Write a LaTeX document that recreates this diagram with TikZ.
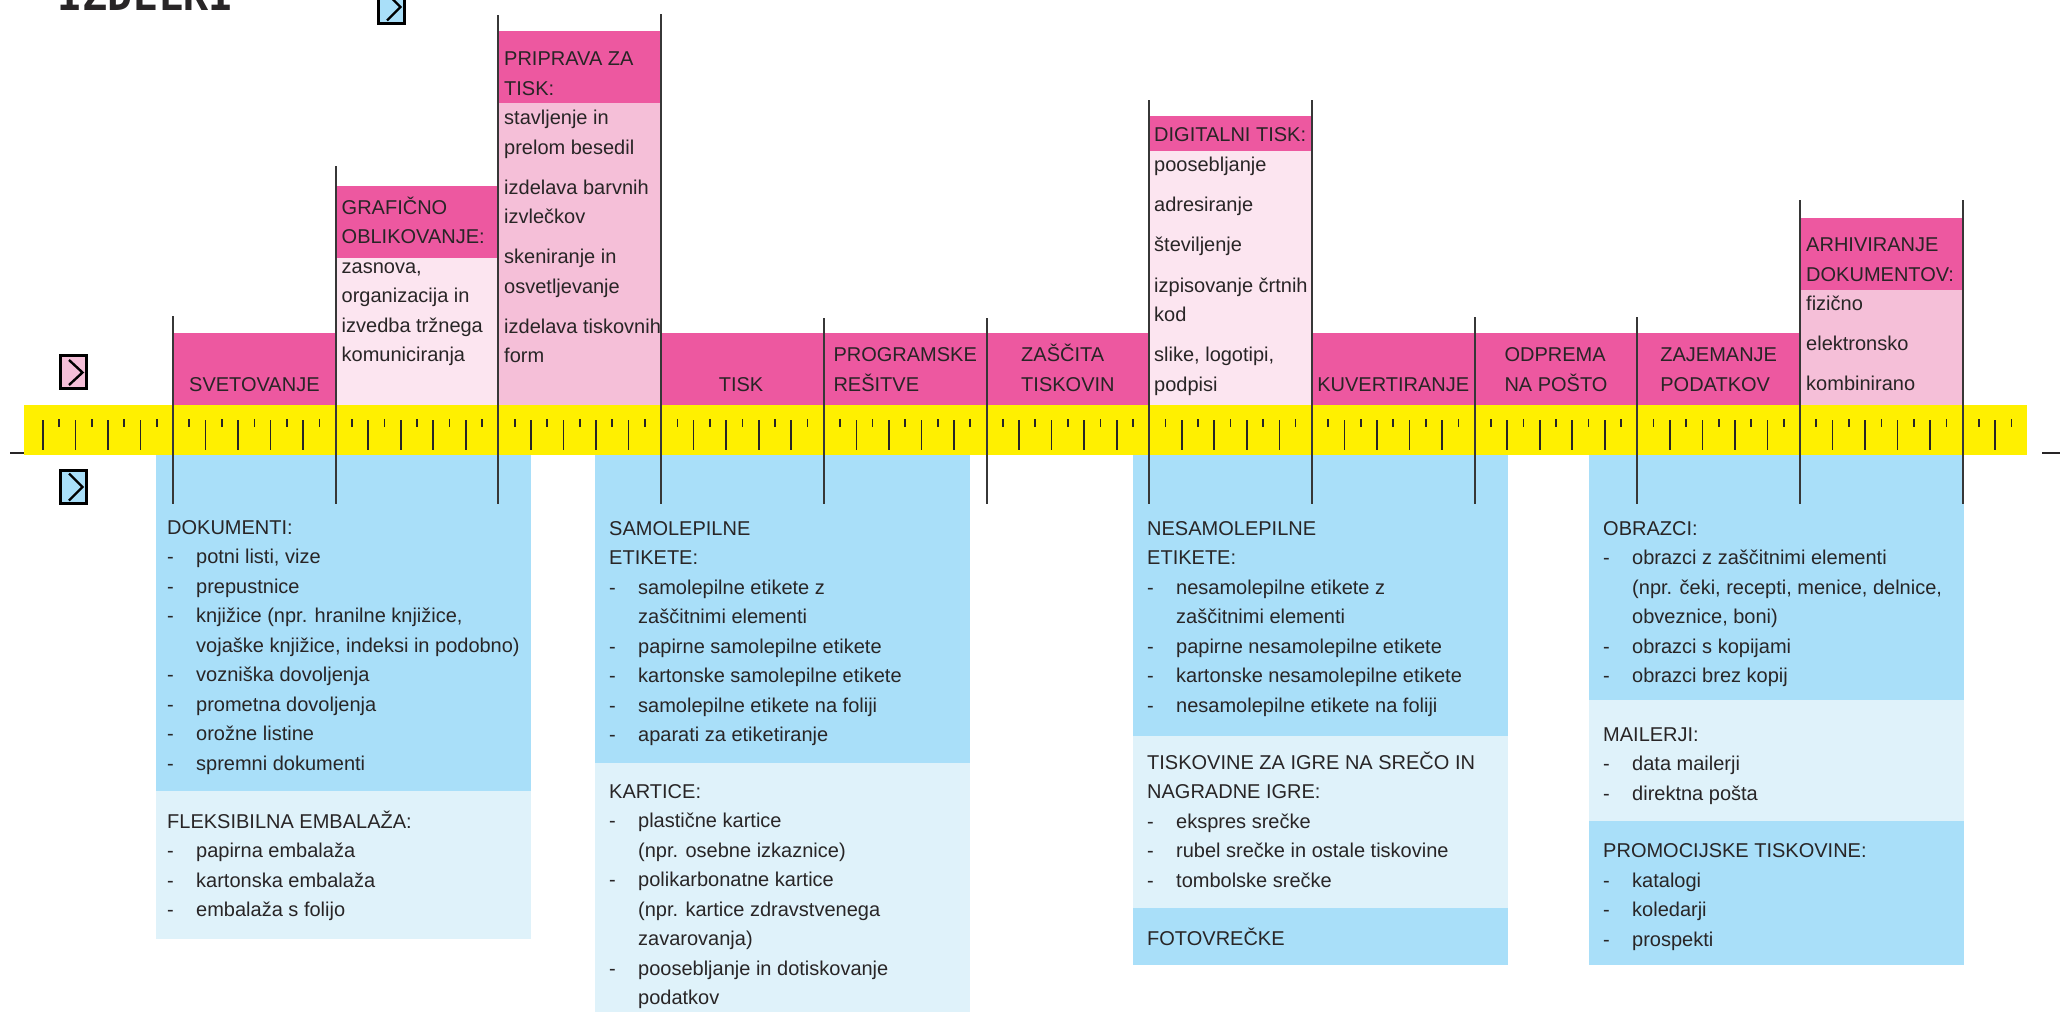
\documentclass[tikz,border=0pt]{standalone}
\usepackage{fontspec}
\setmainfont{Liberation Sans}
\newfontfamily\titlefont{DejaVu Sans Mono}
\definecolor{pinkHot}{RGB}{237,88,160}
\definecolor{pinkMid}{RGB}{245,191,216}
\definecolor{pinkLight}{RGB}{252,229,240}
\definecolor{rulerYellow}{RGB}{255,240,0}
\definecolor{blueMain}{RGB}{169,223,249}
\definecolor{blueLight}{RGB}{223,242,250}
\definecolor{ink}{RGB}{40,37,38}
\definecolor{lineGray}{RGB}{55,55,55}
\newcommand\blk[1]{\begin{tabular}[t]{@{}l@{}}#1\end{tabular}}
\newcommand\di[1]{\makebox[29pt][l]{-}#1}
\newcommand\ci[1]{\hspace*{29pt}#1}
\begin{document}
\begin{tikzpicture}[x=1pt,y=-1pt,
  colline/.style={draw=lineGray,line width=2pt},
  tickmark/.style={draw=ink,line width=1.7pt},
  lbl/.style={inner sep=0pt,text=ink,font=\fontsize{20}{29.5}\selectfont},
  lblw/.style={lbl,anchor=base west},
  lblc/.style={lbl,anchor=base},
  iconbox/.style={draw=black,line width=3pt},
  chev/.style={draw=black,line width=2.4pt,line join=miter},
  sidedash/.style={draw=ink,line width=2.5pt}]
\useasboundingbox (0,0) rectangle (2066,1012);
% ---------- pink band and columns ----------
\fill[pinkHot] (173,333) rectangle (335.7,405);
\fill[pinkHot] (661.1,333) rectangle (1149.2,405);
\fill[pinkHot] (1311.9,333) rectangle (1800,405);
% GRAFICNO
\fill[pinkLight] (335.7,258) rectangle (498.4,405);
\fill[pinkHot] (335.7,186) rectangle (498.4,258);
% PRIPRAVA
\fill[pinkMid] (498.4,103) rectangle (661.1,405);
\fill[pinkHot] (498.4,31) rectangle (661.1,103);
% DIGITALNI
\fill[pinkLight] (1149.2,151) rectangle (1311.9,405);
\fill[pinkHot] (1149.2,116) rectangle (1311.9,151);
% ARHIVIRANJE
\fill[pinkMid] (1800,290) rectangle (1962.7,405);
\fill[pinkHot] (1800,218) rectangle (1962.7,290);
% ---------- yellow ruler ----------
\fill[rulerYellow] (24,405) rectangle (2027,455);
% ---------- blue boxes ----------
\fill[blueMain] (156,455) rectangle (531,791);
\fill[blueLight] (156,791) rectangle (531,939);
\fill[blueMain] (595,455) rectangle (970,763);
\fill[blueLight] (595,763) rectangle (970,1012);
\fill[blueMain] (1133,455) rectangle (1508,736);
\fill[blueLight] (1133,736) rectangle (1508,908);
\fill[blueMain] (1133,908) rectangle (1508,965);
\fill[blueMain] (1589,455) rectangle (1964,700);
\fill[blueLight] (1589,700) rectangle (1964,821);
\fill[blueMain] (1589,821) rectangle (1964,965);
% ---------- ticks ----------
\foreach \k in {-8,...,113}{
  \pgfmathtruncatemacro\m{mod(\k,10)}
  \ifnum\m=0 \else
    \ifodd\k
      \draw[tickmark] (173+16.27*\k,419) -- ++(0,8);
    \else
      \draw[tickmark] (173+16.27*\k,420) -- ++(0,30);
    \fi
  \fi
}
% ---------- column lines ----------
\foreach \xx/\tp in {173/316,335.7/166,498.4/15,661.1/14,823.8/318,986.5/318,1149.2/100,1311.9/100,1474.6/317,1637.3/317,1800/200,1962.7/200}{
  \draw[colline] (\xx,\tp) -- (\xx,504);
}
% side dashes
\coordinate (ldA) at (10,453); \coordinate (ldB) at (24,453);
\coordinate (rdA) at (2042,453); \coordinate (rdB) at (2060,453);
\draw[sidedash] (ldA) -- (ldB);
\draw[sidedash] (rdA) -- (rdB);
% ---------- icons ----------
\draw[iconbox,fill=pinkMid] (60.5,355.5) rectangle (86.5,388.5);
\coordinate (pcA) at (69,360); \coordinate (pcB) at (82.5,372.5); \coordinate (pcC) at (69,385);
\draw[chev] (pcA) -- (pcB) -- (pcC);
\draw[iconbox,fill=blueMain] (60.5,470.8) rectangle (86.5,503.2);
\coordinate (bcA) at (69,473.5); \coordinate (bcB) at (82.5,487); \coordinate (bcC) at (69,500.5);
\draw[chev] (bcA) -- (bcB) -- (bcC);
\begin{scope}
  \clip (0,0) rectangle (2066,1012);
  \draw[iconbox,fill=blueMain] (378.5,-9) rectangle (404,23.5);
  \coordinate (tcA) at (387,-6.5); \coordinate (tcB) at (400.5,7); \coordinate (tcC) at (387,20.5);
  \draw[chev] (tcA) -- (tcB) -- (tcC);
  \node[anchor=base west,inner sep=0pt,text=ink,font=\titlefont\bfseries\fontsize{42}{42}\selectfont] (title) at (57,10) {IZDELKI};
\end{scope}
% ---------- column texts ----------
\node[lblw] (grafic) at (341.5,214) {\blk{GRAFIČNO\\ OBLIKOVANJE:\\ zasnova,\\ organizacija in\\ izvedba tržnega\\ komuniciranja}};
\node[lblw] (priprava) at (504,65.7) {\blk{PRIPRAVA ZA\\ TISK:\\ stavljenje in\\ prelom besedil\\[10.5pt] izdelava barvnih\\ izvlečkov\\[10.5pt] skeniranje in\\ osvetljevanje\\[10.5pt] izdelava tiskovnih\\ form}};
\node[lblw] (digital) at (1154,141.7) {\blk{DIGITALNI TISK:\\ poosebljanje\\[10.8pt] adresiranje\\[10.8pt] številjenje\\[10.8pt] izpisovanje črtnih\\ kod\\[10.8pt] slike, logotipi,\\ podpisi}};
\node[lblw] (arhiv) at (1806,251.7) {\blk{ARHIVIRANJE\\ DOKUMENTOV:\\ fizično\\[10.5pt] elektronsko\\[10.5pt] kombinirano}};
\node[lblc] (svet) at (254.4,391.5) {SVETOVANJE};
\node[lblc] (tisk) at (741,391.5) {TISK};
\node[lblc] (prog) at (905.2,361.5) {\blk{PROGRAMSKE\\ REŠITVE}};
\node[lblc] (zasc) at (1067.9,361.5) {\blk{ZAŠČITA\\ TISKOVIN}};
\node[lblc] (kuv) at (1393.3,391.5) {KUVERTIRANJE};
\node[lblc] (odp) at (1556,361.5) {\blk{ODPREMA\\ NA POŠTO}};
\node[lblc] (zaj) at (1718.7,361.5) {\blk{ZAJEMANJE\\ PODATKOV}};
% ---------- product lists ----------
\node[lblw] (dok) at (167,534.3) {\blk{DOKUMENTI:\\ \di{potni listi, vize}\\ \di{prepustnice}\\ \di{knjižice (npr. hranilne knjižice,}\\ \ci{vojaške knjižice, indeksi in podobno)}\\ \di{vozniška dovoljenja}\\ \di{prometna dovoljenja}\\ \di{orožne listine}\\ \di{spremni dokumenti}}};
\node[lblw] (fleks) at (167,828.3) {\blk{FLEKSIBILNA EMBALAŽA:\\ \di{papirna embalaža}\\ \di{kartonska embalaža}\\ \di{embalaža s folijo}}};
\node[lblw] (samo) at (609,535) {\blk{SAMOLEPILNE\\ ETIKETE:\\ \di{samolepilne etikete z}\\ \ci{zaščitnimi elementi}\\ \di{papirne samolepilne etikete}\\ \di{kartonske samolepilne etikete}\\ \di{samolepilne etikete na foliji}\\ \di{aparati za etiketiranje}}};
\node[lblw] (kart) at (609,798.3) {\blk{KARTICE:\\ \di{plastične kartice}\\ \ci{(npr. osebne izkaznice)}\\ \di{polikarbonatne kartice}\\ \ci{(npr. kartice zdravstvenega}\\ \ci{zavarovanja)}\\ \di{poosebljanje in dotiskovanje}\\ \ci{podatkov}}};
\node[lblw] (nesamo) at (1147,535) {\blk{NESAMOLEPILNE\\ ETIKETE:\\ \di{nesamolepilne etikete z}\\ \ci{zaščitnimi elementi}\\ \di{papirne nesamolepilne etikete}\\ \di{kartonske nesamolepilne etikete}\\ \di{nesamolepilne etikete na foliji}}};
\node[lblw] (igre) at (1147,769.3) {\blk{TISKOVINE ZA IGRE NA SREČO IN\\ NAGRADNE IGRE:\\ \di{ekspres srečke}\\ \di{rubel srečke in ostale tiskovine}\\ \di{tombolske srečke}}};
\node[lblw] (foto) at (1147,945.7) {FOTOVREČKE};
\node[lblw] (obr) at (1603,535) {\blk{OBRAZCI:\\ \di{obrazci z zaščitnimi elementi}\\ \ci{(npr. čeki, recepti, menice, delnice,}\\ \ci{obveznice, boni)}\\ \di{obrazci s kopijami}\\ \di{obrazci brez kopij}}};
\node[lblw] (mail) at (1603,741) {\blk{MAILERJI:\\ \di{data mailerji}\\ \di{direktna pošta}}};
\node[lblw] (promo) at (1603,857.7) {\blk{PROMOCIJSKE TISKOVINE:\\ \di{katalogi}\\ \di{koledarji}\\ \di{prospekti}}};
\end{tikzpicture}
\end{document}
